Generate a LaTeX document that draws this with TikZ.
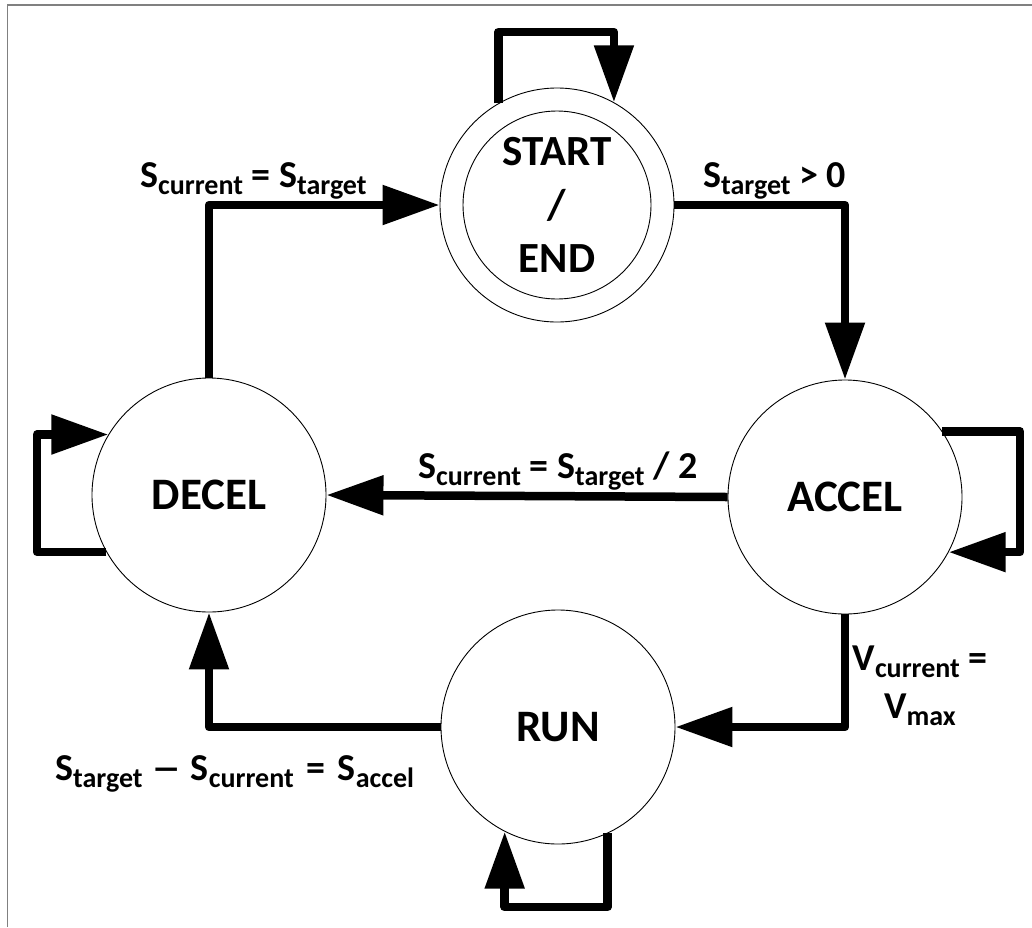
\documentclass[tikz,border=0pt]{standalone}
\usepackage{fontspec}
\usepackage{graphicx}
\setmainfont{Carlito}
\usetikzlibrary{arrows.meta}
% lowered, smaller subscript text for the transition conditions
\newcommand\lsub[1]{\raisebox{-7pt}{\fontsize{28}{28}\selectfont #1}}

\tikzset{
  state/.style={circle, draw, line width=0.9pt, minimum size=234pt, inner sep=0pt,
                font=\fontsize{45}{53}\selectfont\bfseries, align=center},
  flow/.style={line width=8.5pt, line join=round,
               -{Triangle[length=57pt,width=38pt]}},
  lbl/.style={inner sep=0pt, anchor=base west, font=\fontsize{38}{44}\selectfont\bfseries},
  frame/.style={draw=gray, line width=1.6pt}
}

\begin{document}
\begin{tikzpicture}[x=1pt,y=-1pt]
  \useasboundingbox (0,0) rectangle (1032,927);
  \draw[frame] (7.5,927) -- (7.5,5) -- (1032,5);

  % states
  \node[state, font=\fontsize{43}{53.5}\selectfont\bfseries] (se) at (557,205) {START\\/\\END};
  \node[circle, draw, line width=0.9pt, minimum size=188pt, inner sep=0pt] (sei) at (557,205) {};
  \node[state] (acc) at (845,497) {ACCEL};
  \node[state] (dec) at (209,495) {DECEL};
  \node[state] (run) at (558,727) {RUN};

  % corner points of the self loops
  \coordinate (setop) at (557,32);
  \coordinate (accR) at (1020,497);
  \coordinate (decL) at (37,495);
  \coordinate (runB) at (558,907);

  % transitions
  \draw[flow] (se.east) -| (acc.north);
  \draw[flow] (acc.west) -- (dec.east);
  \draw[flow] (dec.north) |- (se.west);
  \draw[flow] (acc.south) |- (run.east);
  \draw[flow] (run.west) -| (dec.south);

  % self loops
  \draw[flow] (se.120) |- (setop) -| (se.61);
  \draw[flow] (acc.34) -| (accR) |- (acc.-28);
  \draw[flow] (dec.209) -| (decL) |- (dec.149);
  \draw[flow] (run.-65) |- (runB) -| (run.-117);

  % transition conditions
  \node[lbl] (l1) at (140,187) {S\lsub{current} = S\lsub{target}};
  \node[lbl] (l2) at (703,187) {S\lsub{target} > 0};
  \node[lbl] (l3) at (418,478) {S\lsub{current} = S\lsub{target} / 2};
  \node[lbl, anchor=base] (l4a) at (920,670) {V\lsub{current} =};
  \node[lbl, anchor=base] (l4b) at (920,718) {V\lsub{max}};
  \node[lbl] (l5) at (55,780)
    {S\lsub{target}\hspace{9pt}\scalebox{1.6}[1]{–}\hspace{9pt}S\lsub{current}\hspace{4pt} =\hspace{4pt} S\lsub{accel}};
\end{tikzpicture}
\end{document}
